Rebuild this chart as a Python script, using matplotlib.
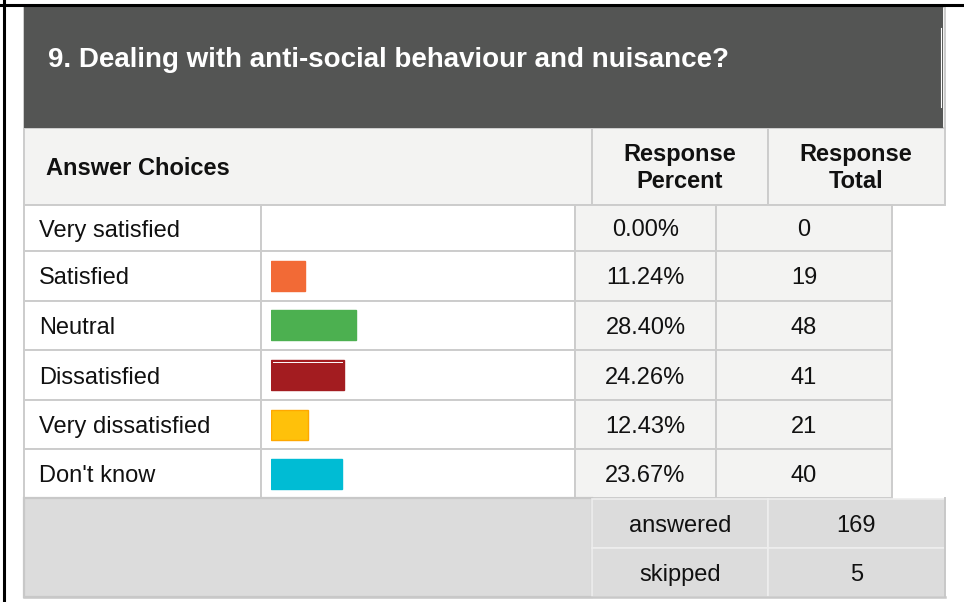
import matplotlib
matplotlib.use("Agg")
import matplotlib.pyplot as plt
from matplotlib.patches import Rectangle

plt.rcParams['font.family'] = ['Liberation Sans', 'DejaVu Sans']

title = "9. Dealing with anti-social behaviour and nuisance?"
choices = ['Very satisfied', 'Satisfied', 'Neutral', 'Dissatisfied',
           'Very dissatisfied', "Don't know"]
percents = [0.00, 11.24, 28.40, 24.26, 12.43, 23.67]
totals = [0, 19, 48, 41, 21, 40]
bar_colors = ['#ffffff', '#f26a36', '#4cb050', '#a31c20', '#ffc10a', '#00bcd4']
bar_edges = ['#ffffff', '#f26a36', '#4cb050', '#a31c20', '#ffa800', '#00bcd4']
summary_labels = ['answered', 'skipped']
summary_values = [169, 5]

# layout in pixels
W, H = 964, 602
grid = '#cccccc'
light = '#f3f3f2'
dark = '#545554'
summary_bg = '#dcdcdc'
txt = '#111111'
fs = 17
fs_title = 20

row_edges = [205, 251, 300.5, 350, 400, 449, 498]
col_label = (24, 261)
col_bar = (261, 575)
col_pct = (575, 716)
col_tot = (716, 892)

fig = plt.figure(figsize=(W / 100, H / 100), dpi=100)
ax = fig.add_axes([0, 0, 1, 1])
ax.set_xlim(0, W)
ax.set_ylim(H, 0)
ax.axis('off')


def cell(x0, x1, y0, y1, fc, ec=grid, lw=1.4, z=1):
    ax.add_patch(Rectangle((x0, y0), x1 - x0, y1 - y0, facecolor=fc,
                           edgecolor=ec, linewidth=lw, zorder=z))


# page borders
ax.plot([0, W], [5, 5], color='black', lw=2.2, zorder=10)
ax.plot([3.5, 3.5], [0, H], color='black', lw=2.2, zorder=10)

# title block
cell(24, 945, 6.5, 128, light, z=1)
ax.add_patch(Rectangle((24, 6.5), 919, 121.5, facecolor=dark, edgecolor='none', zorder=2))
ax.plot([941, 941], [28, 107], color='white', lw=0.8, zorder=3)
ax.text(48, 67, title, color='white', fontsize=fs_title, fontweight='bold',
        va='baseline', ha='left', zorder=4)

# column header row
cell(24, 592, 128, 205, light)
cell(592, 768, 128, 205, light)
cell(768, 945, 128, 205, light)
ax.text(46, 175, 'Answer Choices', fontsize=fs, fontweight='bold', color=txt,
        va='baseline', zorder=4)
for cx, second in [(680, 'Percent'), (856, 'Total')]:
    ax.text(cx, 161, 'Response', fontsize=fs, fontweight='bold', color=txt,
            ha='center', va='baseline', zorder=4)
    ax.text(cx, 188, second, fontsize=fs, fontweight='bold', color=txt,
            ha='center', va='baseline', zorder=4)

# answer rows
for i, (name, p, t) in enumerate(zip(choices, percents, totals)):
    y0, y1 = row_edges[i], row_edges[i + 1]
    base = (y0 + y1) / 2 + 8.5
    cell(*col_label, y0, y1, 'white')
    cell(*col_bar, y0, y1, 'white')
    cell(*col_pct, y0, y1, light)
    cell(*col_tot, y0, y1, light)
    ax.text(39, base, name, fontsize=fs, color=txt, va='baseline', zorder=4)
    ax.text(sum(col_pct) / 2, base, f'{p:.2f}%', fontsize=fs, color=txt,
            ha='center', va='baseline', zorder=4)
    ax.text(sum(col_tot) / 2, base, str(t), fontsize=fs, color=txt,
            ha='center', va='baseline', zorder=4)

# bars drawn in percent units on their own axes
bax = fig.add_axes([271 / W, 1 - row_edges[-1] / H, 300 / W,
                    (row_edges[-1] - row_edges[0]) / H])
bax.set_xlim(0, 100)
bax.set_ylim(row_edges[-1], row_edges[0])
bax.axis('off')
centers = [(row_edges[i] + row_edges[i + 1]) / 2 for i in range(len(choices))]
bax.barh(centers[1:], percents[1:], height=30, left=0,
         color=bar_colors[1:], edgecolor=bar_edges[1:], linewidth=1.0)
# thin highlight on the dissatisfied bar
bax.plot([0.8, percents[3] * 0.97], [centers[3] - 13.5, centers[3] - 13.5],
         color='white', lw=0.7)

# summary block
ax.add_patch(Rectangle((24, 498), 568, 98.5, facecolor=summary_bg,
                       edgecolor='#c8c8c8', linewidth=1.6, zorder=1))
sum_edges = [498.5, 548, 596.5]
for j, (lab, val) in enumerate(zip(summary_labels, summary_values)):
    y0, y1 = sum_edges[j], sum_edges[j + 1]
    cell(592, 768, y0, y1, summary_bg, ec='#eeeeee', lw=1.2, z=2)
    cell(768, 945, y0, y1, summary_bg, ec='#eeeeee', lw=1.2, z=2)
    base = (y0 + y1) / 2 + 8.5
    ax.text(680, base, lab, fontsize=fs, color=txt, ha='center', va='baseline', zorder=4)
    ax.text(856.5, base, str(val), fontsize=fs, color=txt, ha='center',
            va='baseline', zorder=4)
ax.plot([24, 945], [597, 597], color='#c8c8c8', lw=1.8, zorder=3)
ax.plot([945, 945], [498, 597], color='#c8c8c8', lw=1.4, zorder=3)

fig.savefig('out.png', dpi=100)
